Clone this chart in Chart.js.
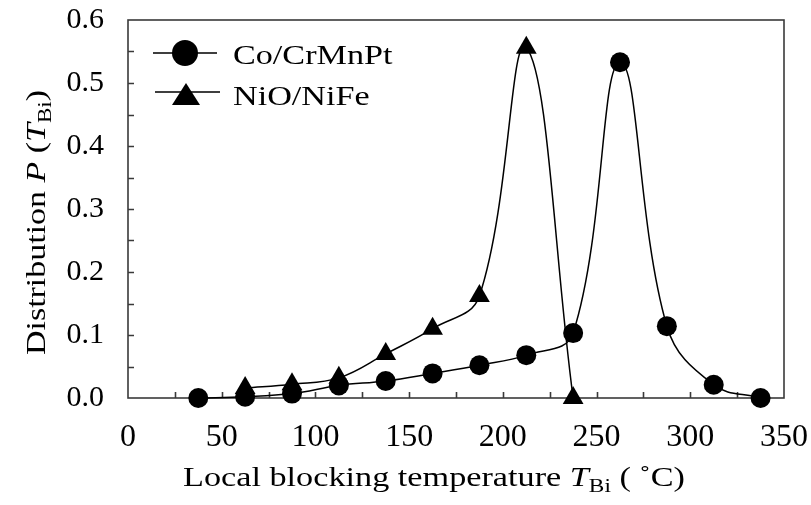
<!DOCTYPE html>
<html lang="en">
<head>
<meta charset="UTF-8">
<title>Local blocking temperature distribution</title>
<script src="https://cdn.jsdelivr.net/npm/chart.js"></script>
<style>
  html, body { margin: 0; padding: 0; background: #fff; }
  #wrap { width: 811px; height: 505px; }
</style>
</head>
<body>
<div id="wrap"><canvas id="chart" width="811" height="505"></canvas></div>
<script>
// values
var seriesNames = ['Co/CrMnPt', 'NiO/NiFe'];
var tempCo = [37.5, 62.5, 87.5, 112.5, 137.5, 162.5, 187.5, 212.5, 237.5, 262.5, 287.5, 312.5, 337.5];
var distCo = [0.0, 0.002, 0.007, 0.02, 0.027, 0.039, 0.052, 0.068, 0.103, 0.533, 0.114, 0.021, 0.0];
var tempNiO = [62.5, 87.5, 112.5, 137.5, 162.5, 187.5, 212.5, 237.5];
var distNiO = [0.016, 0.022, 0.032, 0.07, 0.11, 0.162, 0.556, 0.0];
var xTicks = [0, 50, 100, 150, 200, 250, 300, 350];
var yTicks = [0, 0.1, 0.2, 0.3, 0.4, 0.5, 0.6];

var SERIF = '"Liberation Serif", "Times New Roman", serif';

function toPoints(xs, ys) {
    return xs.map(function (x, i) { return { x: x, y: ys[i] }; });
}

// rich text helpers (italic letters, subscripts)
function fontFor(p, size) {
    var s = p.sub ? size * 0.68 : size;
    return (p.italic ? 'italic ' : '') + s + 'px ' + SERIF;
}
function richWidth(ctx, parts, size) {
    var w = 0;
    parts.forEach(function (p) {
        ctx.font = fontFor(p, size);
        w += ctx.measureText(p.text).width;
    });
    return w;
}
function drawRich(ctx, parts, size, sx) {
    ctx.save();
    ctx.scale(sx, 1);
    var x = 0;
    parts.forEach(function (p) {
        ctx.font = fontFor(p, size);
        ctx.fillText(p.text, x, p.sub ? size * 0.22 : 0);
        x += ctx.measureText(p.text).width;
    });
    ctx.restore();
}

var xTitle = [
    { text: 'Local blocking temperature ' },
    { text: 'T', italic: true },
    { text: 'Bi', sub: true },
    { text: ' ( ˚C)' }
];
var yTitle = [
    { text: 'Distribution ' },
    { text: 'P', italic: true },
    { text: ' (' },
    { text: 'T', italic: true },
    { text: 'Bi', sub: true },
    { text: ')' }
];

// no extra room for overflowing tick labels, the layout padding decides
function noScalePadding(s) {
    s.paddingTop = 0;
    s.paddingBottom = 0;
    s.paddingLeft = 0;
    s.paddingRight = 0;
}

var framePlugin = {
    id: 'frame',
    beforeDatasetsDraw: function (chart) {
        var ctx = chart.ctx, ca = chart.chartArea;
        var xs = chart.scales.x, ys = chart.scales.y;
        ctx.save();
        ctx.strokeStyle = '#3a3a3a';
        ctx.lineWidth = 1.6;
        ctx.strokeRect(ca.left, ca.top, ca.right - ca.left, ca.bottom - ca.top);
        ctx.beginPath();
        // inward ticks
        for (var v = 25; v < 350; v += 25) {
            var px = Math.round(xs.getPixelForValue(v)) + 0.5;
            ctx.moveTo(px, ca.bottom);
            ctx.lineTo(px, ca.bottom - 6);
        }
        for (var k = 1; k < 12; k++) {
            var py = Math.round(ys.getPixelForValue(k * 0.05)) + 0.5;
            ctx.moveTo(ca.left, py);
            ctx.lineTo(ca.left + 6, py);
        }
        ctx.stroke();
        ctx.restore();
    },
    afterDraw: function (chart) {
        var ctx = chart.ctx;
        ctx.save();
        ctx.fillStyle = '#000';
        ctx.textBaseline = 'alphabetic';
        ctx.textAlign = 'left';

        // axis titles
        var size = 27;
        var wx = richWidth(ctx, xTitle, size);
        ctx.save();
        ctx.translate(183, 486);
        drawRich(ctx, xTitle, size, 502 / wx);
        ctx.restore();

        var wy = richWidth(ctx, yTitle, size);
        ctx.save();
        ctx.translate(45, 355);
        ctx.rotate(-Math.PI / 2);
        drawRich(ctx, yTitle, size, 265 / wy);
        ctx.restore();

        // legend
        ctx.strokeStyle = '#000';
        ctx.lineWidth = 1.5;
        ctx.beginPath();
        ctx.moveTo(153, 53); ctx.lineTo(217, 53);
        ctx.moveTo(155, 92); ctx.lineTo(220, 92);
        ctx.stroke();
        ctx.beginPath();
        ctx.arc(185, 53, 13, 0, Math.PI * 2);
        ctx.fill();
        ctx.beginPath();
        ctx.moveTo(186, 83); ctx.lineTo(200, 105); ctx.lineTo(172, 105);
        ctx.closePath();
        ctx.fill();

        ctx.save();
        ctx.translate(233, 64);
        drawRich(ctx, [{ text: seriesNames[0] }], 28, 1.22);
        ctx.restore();
        ctx.save();
        ctx.translate(233, 105);
        drawRich(ctx, [{ text: seriesNames[1] }], 28, 1.22);
        ctx.restore();
        ctx.restore();
    }
};

var ctx = document.getElementById('chart').getContext('2d');
new Chart(ctx, {
    type: 'line',
    data: {
        datasets: [{
            label: seriesNames[0],
            data: toPoints(tempCo, distCo),
            borderColor: '#000',
            backgroundColor: '#000',
            borderWidth: 1.5,
            pointStyle: 'circle',
            pointRadius: 10,
            pointBorderWidth: 0,
            tension: 0.4,
            clip: false
        }, {
            label: seriesNames[1],
            data: toPoints(tempNiO, distNiO),
            borderColor: '#000',
            backgroundColor: '#000',
            borderWidth: 1.5,
            pointStyle: 'triangle',
            pointRadius: 12,
            pointBorderWidth: 0,
            tension: 0.4,
            clip: false
        }]
    },
    options: {
        responsive: false,
        animation: false,
        layout: { padding: { top: 20, right: 27, left: 0, bottom: 0 } },
        plugins: {
            legend: { display: false },
            tooltip: { enabled: false }
        },
        scales: {
            x: {
                type: 'linear',
                min: 0,
                max: 350,
                grid: { display: false, drawTicks: false },
                border: { display: false },
                afterBuildTicks: function (s) {
                    s.ticks = xTicks.map(function (v) { return { value: v }; });
                },
                afterFit: function (s) { s.height = 107; noScalePadding(s); },
                ticks: {
                    color: '#000',
                    font: { family: SERIF, size: 32 },
                    padding: 20,
                    maxRotation: 0
                }
            },
            y: {
                min: 0,
                max: 0.6,
                grid: { display: false, drawTicks: false },
                border: { display: false },
                afterBuildTicks: function (s) {
                    s.ticks = yTicks.map(function (v) { return { value: v }; });
                },
                afterFit: function (s) { s.width = 128; noScalePadding(s); },
                ticks: {
                    color: '#000',
                    font: { family: SERIF, size: 30 },
                    padding: 24,
                    callback: function (v) { return v.toFixed(1); }
                }
            }
        }
    },
    plugins: [framePlugin]
});
</script>
</body>
</html>
